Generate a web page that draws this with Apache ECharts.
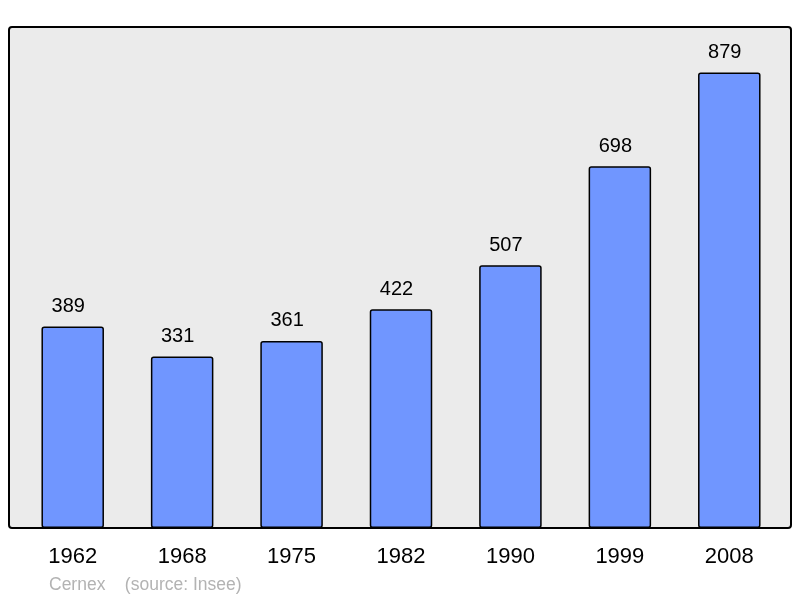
<!DOCTYPE html>
<html>
<head>
<meta charset="utf-8">
<script src="https://cdn.jsdelivr.net/npm/echarts@6/dist/echarts.min.js"></script>
<style>html,body{margin:0;padding:0;background:#fff}#c{width:800px;height:598px}</style>
</head>
<body>
<div id="c"></div>
<script>
const categories = ['1962','1968','1975','1982','1990','1999','2008'];
const population = [389, 331, 361, 422, 507, 698, 879];
const footerText = 'Cernex    (source: Insee)';

const chart = echarts.init(document.getElementById('c'), null, {renderer: 'canvas'});
chart.setOption({
  animation: false,
  backgroundColor: '#ffffff',
  textStyle: {fontFamily: 'Liberation Sans, Arial, sans-serif'},
  graphic: [
    {type: 'rect', z: 0, shape: {x: 9, y: 27, width: 782, height: 501, r: 3},
     style: {fill: '#ebebeb', stroke: '#000', lineWidth: 2}},
    {type: 'text', z: 5, left: 49, top: 576,
     style: {text: footerText, fill: '#b3b3b3', fontSize: 17.5, fontFamily: 'Liberation Sans, Arial, sans-serif'}}
  ],
  grid: {left: 18, right: 16, top: 27, bottom: 70},
  xAxis: {
    type: 'category', data: categories,
    axisLine: {show: false}, axisTick: {show: false},
    axisLabel: {color: '#000', fontSize: 22, margin: 18}
  },
  yAxis: {
    type: 'value', min: 0, max: 967,
    show: false, splitLine: {show: false}
  },
  series: [{
    type: 'bar', data: population, barWidth: 62.5,
    itemStyle: {color: '#7096ff', borderColor: '#000', borderWidth: 1.5, borderRadius: 2},
    label: {show: true, position: 'top', distance: 10, offset: [-4.5, 0], color: '#000', fontSize: 20}
  }]
});
</script>
</body>
</html>
